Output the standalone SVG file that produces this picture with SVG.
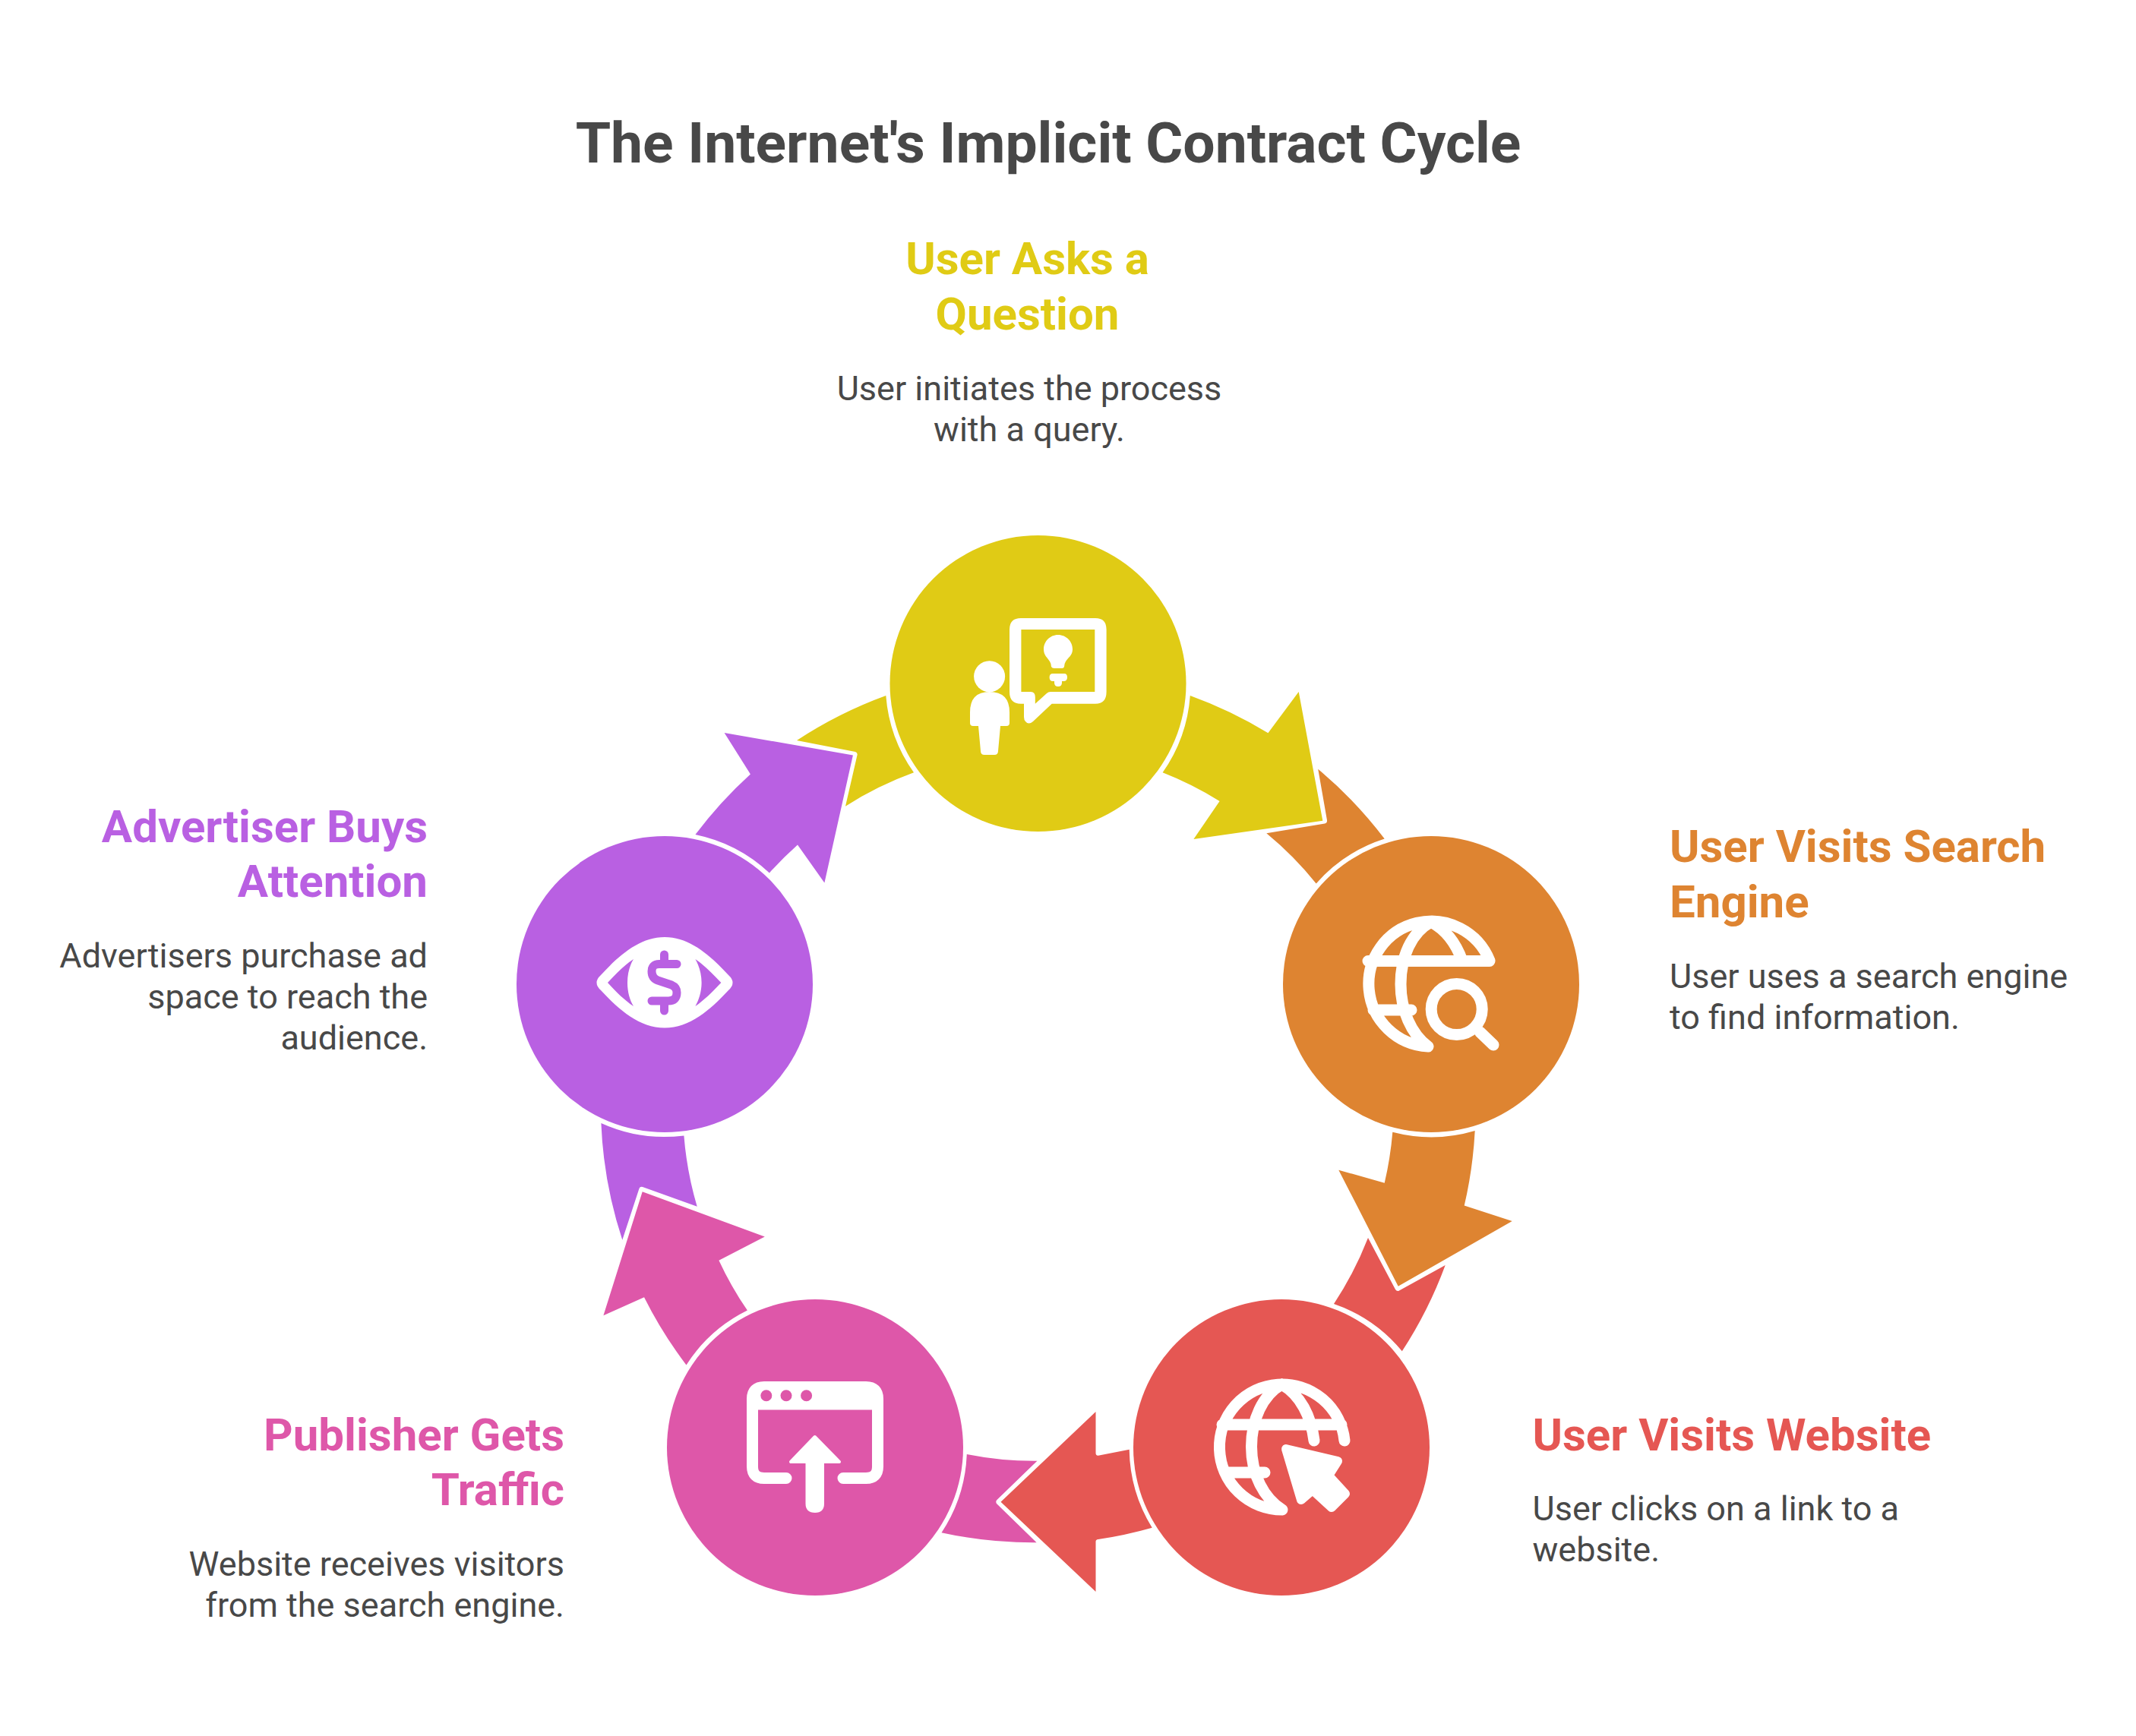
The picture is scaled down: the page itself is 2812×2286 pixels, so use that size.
<svg xmlns="http://www.w3.org/2000/svg" width="2812" height="2286" viewBox="0 0 2812 2286">
<style>
text{font-family:Roboto,"Liberation Sans",sans-serif}
.title{font-size:75px;font-weight:700;fill:#484848;text-anchor:middle}
.h{font-size:60px;font-weight:700}
.d{font-size:45px;font-weight:400;fill:#484848}
.m{text-anchor:middle}.e{text-anchor:end}
.y{fill:#e0cb15}.o{fill:#de8431}.r{fill:#e55753}.p{fill:#de57a9}.v{fill:#b960e2}
.ic{fill:none;stroke:#fff;stroke-width:15;stroke-linecap:round;stroke-linejoin:round}
.w{fill:#fff}
</style>
<rect width="2812" height="2286" fill="#fff"/>
<text class="title" x="1380" y="214">The Internet's Implicit Contract Cycle</text>
<g id="connectors">
<path class="y" d="M1566.8 916A565 565 0 0 1 1669.4 965.3L1709.7 911L1741.3 1080.7L1571.4 1105L1605.6 1055A455 455 0 0 0 1530.6 1017.3A202 202 0 0 0 1566.8 916Z"/>
<path class="y" d="M1166.3 916A565 565 0 0 0 1049 975L1126 990Q1129 991 1128.6 994L1113 1061.7A455 455 0 0 1 1203 1017.3A202 202 0 0 1 1166.3 916Z"/>
<path class="o" d="M1735.2 1012.7A565 565 0 0 1 1822.7 1104.6A202 202 0 0 0 1732.7 1163.5A455 455 0 0 0 1667.3 1097.3L1744 1084.5Q1747.4 1084 1747 1080Z"/>
<path class="o" d="M1941.7 1488.9A565 565 0 0 1 1927.7 1587.6L1990.7 1608.1L1840.7 1693.8L1762.3 1540.7L1822.7 1557.7A455 455 0 0 0 1833.3 1490.7A202 202 0 0 0 1941.7 1488.9Z"/>
<path class="r" d="M1801 1630L1837 1698Q1839 1701 1842 1699.5L1902.7 1666A565 565 0 0 1 1845.8 1779.3A202 202 0 0 0 1756 1717A455 455 0 0 0 1801 1630Z"/>
<path class="r" d="M1486.7 1908.7L1445.8 1916.7Q1442.5 1917 1442.5 1913L1442.5 1859L1317.5 1977.7L1442.5 2096L1442.5 2030Q1442.5 2027.3 1445.8 2027A565 565 0 0 0 1516.7 2011.7A202 202 0 0 1 1486.7 1908.7Z"/>
<path class="p" d="M1272.8 1914.9A455 455 0 0 0 1365.4 1923.7L1312.5 1975Q1310 1977.7 1312.5 1980.5L1364.6 2031.3A565 565 0 0 1 1239.5 2018.2A202 202 0 0 0 1272.8 1914.9Z"/>
<path class="p" d="M983.9 1725.6A455 455 0 0 1 946.4 1659.7L1006.8 1628.5L845.7 1569.2L794.4 1732.3L848 1708.2A565 565 0 0 0 903.5 1797.4A202 202 0 0 1 983.9 1725.6Z"/>
<path class="v" d="M791.4 1479A565 565 0 0 0 819.3 1632.7L841.5 1565Q842.7 1562 846 1563L917.7 1588.7A455 455 0 0 1 900.4 1495.4A202 202 0 0 1 791.4 1479Z"/>
<path class="v" d="M915.4 1099A565 565 0 0 1 987.9 1019.4L953.6 965L1122.9 994.5L1085.4 1162.5L1050 1112.4A455 455 0 0 0 1012.9 1149.5A202 202 0 0 0 915.4 1099Z"/>
</g>
<g id="node-ask">
<circle class="y" cx="1366.5" cy="900" r="195"/>
<circle class="w" cx="1302.6" cy="890.7" r="20.5"/>
<path class="w" d="M1302.6 911Q1277 911 1277 938V952Q1277 956 1281 956H1288L1291 989Q1291 994 1296 994H1309Q1314 994 1314 989L1317 956H1325Q1329 956 1329 952V938Q1329 911 1302.6 911Z"/>
<path class="w" fill-rule="evenodd" d="M1344 814H1442Q1456.6 814 1456.6 829V911Q1456.6 926.7 1442 926.7H1384.7L1360 950Q1354 955 1350 950Q1348 948 1348 944V926.7H1344Q1329 926.7 1329 911V829Q1329 814 1344 814ZM1344.4 829V911H1357Q1362.8 911 1362.8 918V926.7L1378 913Q1380 911 1383 911H1441.3V829Z"/>
<path class="w" d="M1392.9 836C1382 836 1374 845 1374 855C1374 863 1379 866 1382 871Q1384 874 1384 878Q1385 880 1388 880H1398Q1400.5 880 1401 878Q1401 874 1403 871C1406 866 1412 863 1412 855C1412 845 1404 836 1392.9 836Z"/>
<path class="w" d="M1386 887H1401Q1405 887 1405 892Q1405 897 1400 897H1398V899Q1398 904 1393 904Q1388 904 1388 899V897H1386Q1381.6 897 1381.6 892Q1381.6 887 1386 887Z"/>
</g>
<g id="node-search">
<circle class="o" cx="1884" cy="1296" r="195"/>
<path class="ic" d="M1961 1265A82.5 82.5 0 1 0 1880 1378M1801 1265.5H1961M1808 1330H1858M1884 1214C1858 1228 1844 1260 1844 1296C1844 1330 1858 1362 1880 1378M1884 1214C1903 1224 1917 1243 1925 1265M1948.3 1359L1966 1376"/>
<circle class="ic" cx="1917.7" cy="1329" r="33.5"/>
</g>
<g id="node-website">
<circle class="r" cx="1687" cy="1906" r="195"/>
<path class="ic" d="M1770 1897A82.5 82.5 0 1 0 1688 1988M1609 1876H1766M1617 1939H1665M1687.5 1823C1662 1837 1647.5 1870 1647.5 1905C1647.5 1942 1664 1973 1688 1988M1687.5 1823C1712 1837 1726 1865 1730 1897"/>
<path class="w" stroke="#fff" stroke-width="12" stroke-linejoin="round" d="M1693 1908L1761 1924L1749 1943L1771 1967L1753 1985L1728 1962L1713 1975Z"/>
</g>
<g id="node-publisher">
<circle class="p" cx="1073" cy="1906" r="195"/>
<path class="ic" d="M1035 1946.5H1006Q990.5 1946.5 990.5 1931V1842Q990.5 1826.5 1006 1826.5H1140Q1155.5 1826.5 1155.5 1842V1931Q1155.5 1946.5 1140 1946.5H1110"/>
<path class="w" d="M990 1856.4V1840Q990 1826 1006 1826H1140Q1156 1826 1156 1840V1856.4Z"/>
<circle class="p" cx="1008.8" cy="1837.7" r="7.5"/>
<circle class="p" cx="1035" cy="1837.7" r="7.5"/>
<circle class="p" cx="1061.6" cy="1837.7" r="7.5"/>
<path class="w" stroke="#fff" stroke-width="4" stroke-linejoin="round" d="M1072.7 1892L1041 1925H1062.5V1980Q1062.5 1990 1073 1990Q1083 1990 1083 1980V1925H1105Z"/>
</g>
<g id="node-advertiser">
<circle class="v" cx="875" cy="1296" r="195"/>
<path class="w" fill-rule="evenodd" d="M791 1284C815 1258 842 1234 875 1234C908 1234 935 1258 959 1284Q970 1294 959 1304C935 1330 908 1353.5 875 1353.5C842 1353.5 815 1330 791 1304Q780 1294 791 1284ZM800 1294C812 1307 822 1317 834 1325C829 1317 826 1306 826 1294C826 1282 829 1271 834 1263C822 1271 812 1281 800 1294ZM949.3 1294C937 1281 927 1271 915.4 1263C920 1271 923.6 1282 923.6 1294C923.6 1306 920 1317 915.4 1325C927 1317 937 1307 949.3 1294Z"/>
<path class="ic" style="stroke:#b960e2;stroke-width:11" d="M891 1269.5H868Q858 1269.5 858 1279Q858 1288 866 1291L884 1297Q891 1300 891 1307Q891 1318 880 1318H858M874.5 1257V1268M874.5 1320V1331"/>
</g>
<g id="label-ask">
<text class="h y m" x="1352.5" y="361">User Asks a</text>
<text class="h y m" x="1352.5" y="434">Question</text>
<text class="d m" x="1355" y="527">User initiates the process</text>
<text class="d m" x="1355" y="581">with a query.</text>
</g>
<g id="label-search">
<text class="h o" x="2198" y="1135">User Visits Search</text>
<text class="h o" x="2198" y="1208">Engine</text>
<text class="d" x="2198" y="1301">User uses a search engine</text>
<text class="d" x="2198" y="1355">to find information.</text>
</g>
<g id="label-website">
<text class="h r" x="2017.5" y="1910">User Visits Website</text>
<text class="d" x="2017.5" y="2002">User clicks on a link to a</text>
<text class="d" x="2017.5" y="2056">website.</text>
</g>
<g id="label-publisher">
<text class="h p e" x="743" y="1910">Publisher Gets</text>
<text class="h p e" x="743" y="1982">Traffic</text>
<text class="d e" x="743" y="2075">Website receives visitors</text>
<text class="d e" x="743" y="2129">from the search engine.</text>
</g>
<g id="label-advertiser">
<text class="h v e" x="563" y="1109">Advertiser Buys</text>
<text class="h v e" x="563" y="1181">Attention</text>
<text class="d e" x="563" y="1274">Advertisers purchase ad</text>
<text class="d e" x="563" y="1328">space to reach the</text>
<text class="d e" x="563" y="1382">audience.</text>
</g>
</svg>
